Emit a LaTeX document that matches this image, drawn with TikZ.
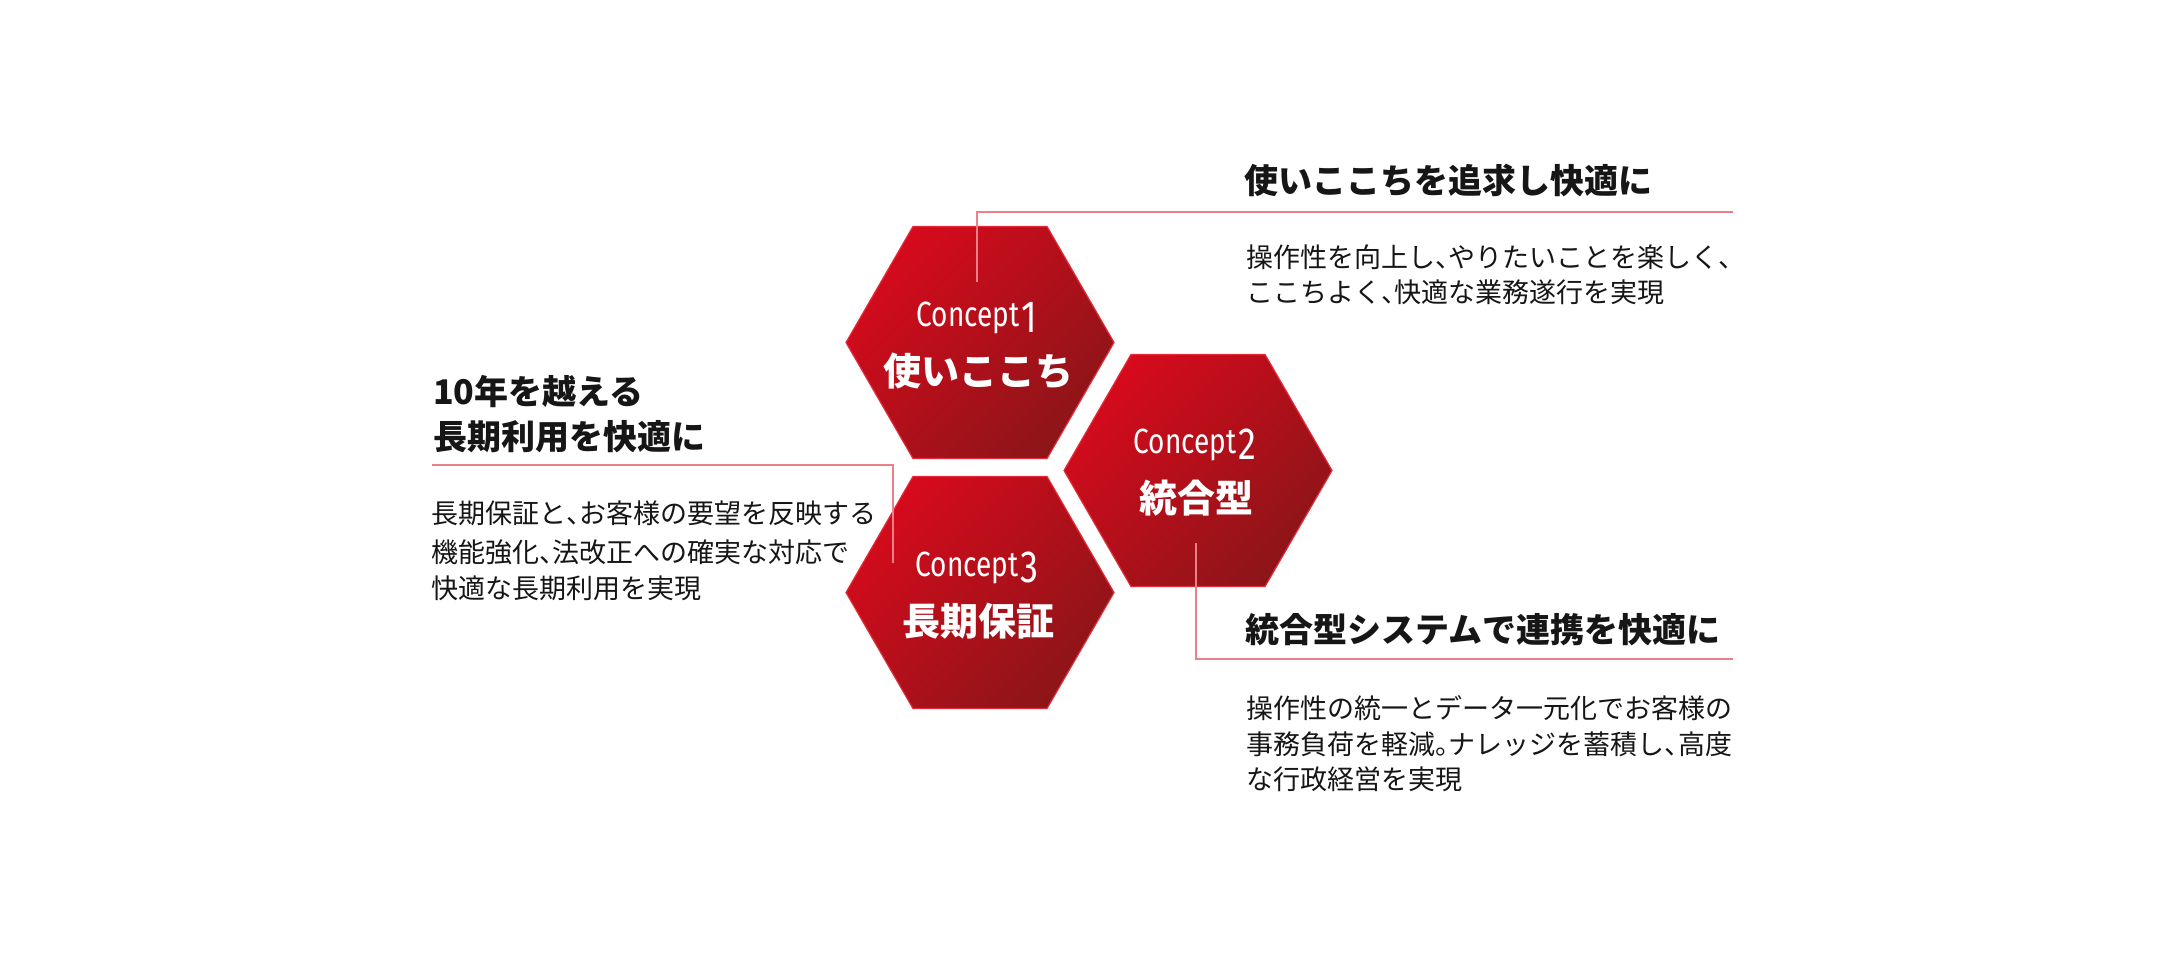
\documentclass[tikz,border=0pt]{standalone}
\usepackage{fontspec}
\usetikzlibrary{shapes.geometric}
\newfontfamily\jpfont{Noto Sans CJK JP}
\newfontfamily\cptfont[FakeStretch=0.8]{Fira Sans}
\definecolor{hexA}{HTML}{D60A1C}
\definecolor{hexB}{HTML}{8C1518}
\definecolor{hexedge}{HTML}{E32B3A}
\definecolor{linkpink}{HTML}{EE7E87}
\definecolor{ink}{HTML}{161616}
\newcommand{\tn}{\makebox[0.5em][l]{、}}
\newcommand{\mr}{\makebox[0.5em][l]{。}}
\begin{document}
\begin{tikzpicture}[x=1pt,y=-1pt,
  hexa/.style={regular polygon, regular polygon sides=6, minimum size=268pt, inner sep=0pt,
    top color=hexA, bottom color=hexB, shading angle=45, draw=hexedge, line width=1.2pt},
  cpt/.style={text=white, inner sep=0pt, anchor=base, font=\cptfont\fontsize{35}{35}\selectfont},
  hexjp/.style={text=white, inner sep=0pt, anchor=base, font=\jpfont\bfseries\fontsize{38}{38}\selectfont},
  ttl/.style={text=ink, inner sep=0pt, anchor=base west, font=\jpfont\bfseries\fontsize{34}{34}\selectfont},
  bdy/.style={text=ink, inner sep=0pt, anchor=base west, font=\jpfont\fontsize{27}{27}\selectfont},
  link/.style={draw=linkpink, line width=2pt}]
\fill[white] (0,0) rectangle (2160,960);
\useasboundingbox (0,0) rectangle (2160,960);
% hexagons
\node[hexa] (h1) at (980,342.5) {};
\node[hexa] (h2) at (1198,470.5) {};
\node[hexa] (h3) at (980,592.5) {};
% hexagon labels
\node[cpt] (k1) at (977,326) {Concept\hspace{2pt}\raisebox{-6pt}{\fontsize{45}{45}\selectfont 1}};
\node[hexjp] (j1) at (978,385) {使いここち};
\node[cpt] (k2) at (1195,453) {Concept\hspace{2pt}\raisebox{-6pt}{\fontsize{45}{45}\selectfont 2}};
\node[hexjp] (j2) at (1196,512) {統合型};
\node[cpt] (k3) at (977,576) {Concept\hspace{2pt}\raisebox{-6pt}{\fontsize{45}{45}\selectfont 3}};
\node[hexjp] (j3) at (978,635) {長期保証};
% connectors
\coordinate (p1) at (977,282);
\coordinate (q1) at (1733,212);
\draw[link] (p1) |- (q1);
\coordinate (p2) at (1196,543);
\coordinate (q2) at (1733,659);
\draw[link] (p2) |- (q2);
\coordinate (p3) at (893,563);
\coordinate (q3) at (432,465);
\draw[link] (p3) |- (q3);
% concept 1 texts
\node[ttl] (t1) at (1244,194) {使いここちを追求し快適に};
\node[bdy] (d1a) at (1246,267) {操作性を向上し\tn やりたいことを楽しく\tn};
\node[bdy] (d1b) at (1246,302) {ここちよく\tn 快適な業務遂行を実現};
% concept 3 texts
\node[ttl] (t3a) at (433,404) {10年を越える};
\node[ttl] (t3b) at (433,449) {長期利用を快適に};
\node[bdy] (d3a) at (431,523) {長期保証と\tn お客様の要望を反映する};
\node[bdy] (d3b) at (431,562) {機能強化\tn 法改正への確実な対応で};
\node[bdy] (d3c) at (431,598) {快適な長期利用を実現};
% concept 2 texts
\node[ttl] (t2) at (1245,642) {統合型システムで連携を快適に};
\node[bdy] (d2a) at (1246,718) {操作性の統一とデータ一元化でお客様の};
\node[bdy] (d2b) at (1246,754) {事務負荷を軽減\mr ナレッジを蓄積し\tn 高度};
\node[bdy] (d2c) at (1246,789) {な行政経営を実現};
\end{tikzpicture}
\end{document}
